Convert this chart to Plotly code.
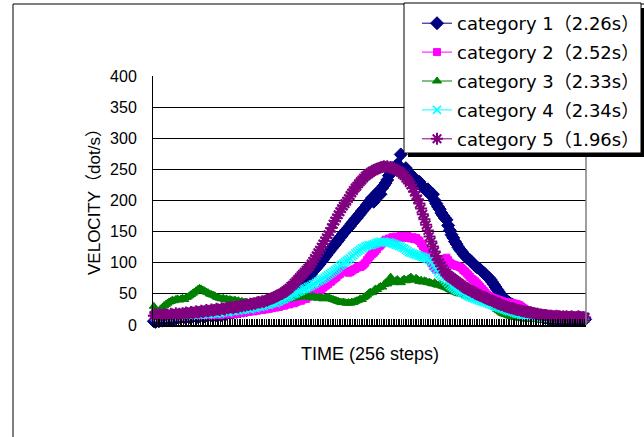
import plotly.graph_objects as go

steps = list(range(256))

names = ["category 1（2.26s）", "category 2（2.52s）", "category 3（2.33s）",
         "category 4（2.34s）", "category 5（1.96s）"]

cat1 = [6, 5, 7, 6, 8, 7, 9, 8, 10, 9, 11, 10, 12, 11, 12, 13,
        12, 14, 13, 15, 14, 13, 15, 14, 16, 15, 13, 14, 16, 15, 14, 16,
        15, 17, 16, 15, 17, 16, 18, 17, 16, 18, 19, 18, 20, 19, 21, 20,
        22, 21, 23, 22, 24, 23, 25, 24, 26, 25, 27, 28, 27, 29, 30, 29,
        31, 32, 31, 33, 34, 35, 34, 36, 37, 38, 39, 40, 41, 43, 45, 47,
        49, 52, 55, 57, 60, 62, 65, 67, 70, 72, 74, 76, 78, 82, 86, 89,
        92, 95, 98, 102, 105, 109, 112, 116, 119, 123, 126, 129, 133, 136, 140, 143,
        147, 150, 153, 156, 159, 163, 166, 170, 172, 176, 179, 183, 186, 189, 193, 196,
        200, 204, 198, 207, 212, 215, 210, 220, 224, 228, 233, 240, 245, 252, 250, 255,
        258, 255, 274, 250, 248, 252, 246, 244, 240, 238, 236, 232, 228, 230, 224, 222,
        220, 216, 218, 213, 208, 210, 200, 195, 190, 186, 180, 176, 172, 169, 160, 152,
        145, 140, 134, 130, 125, 121, 118, 114, 111, 108, 106, 104, 101, 98, 95, 93,
        91, 89, 86, 84, 81, 78, 76, 73, 69, 65, 61, 57, 53, 49, 45, 42,
        40, 38, 36, 34, 33, 31, 30, 29, 27, 26, 24, 23, 22, 21, 20, 19,
        18, 17, 16, 15, 14, 14, 13, 12, 12, 11, 11, 10, 10, 11, 10, 9,
        10, 9, 10, 9, 9, 10, 9, 8, 9, 8, 9, 8, 8, 9, 8, 9]

cat2 = [16, 14, 12, 15, 13, 14, 12, 13, 15, 12, 14, 13, 15, 14, 13, 15,
        14, 15, 13, 16, 14, 15, 16, 14, 15, 17, 15, 16, 14, 16, 17, 15,
        16, 17, 15, 18, 16, 17, 18, 16, 17, 19, 17, 18, 19, 17, 18, 20,
        18, 19, 20, 19, 21, 20, 21, 22, 21, 22, 23, 22, 24, 23, 24, 25,
        24, 26, 25, 27, 26, 28, 27, 29, 28, 30, 29, 31, 32, 31, 33, 34,
        33, 35, 36, 35, 37, 38, 40, 39, 41, 43, 42, 45, 47, 46, 49, 51,
        53, 55, 54, 57, 60, 62, 64, 66, 69, 70, 73, 75, 77, 80, 82, 86,
        88, 86, 87, 84, 85, 87, 89, 90, 92, 94, 93, 95, 97, 100, 104, 108,
        111, 114, 116, 119, 122, 126, 128, 131, 134, 137, 136, 139, 138, 141, 140, 142,
        139, 141, 143, 140, 142, 141, 143, 140, 139, 141, 138, 140, 137, 135, 131, 127,
        122, 118, 113, 107, 100, 95, 92, 89, 90, 93, 97, 101, 106, 108, 104, 100,
        98, 97, 96, 95, 94, 93, 91, 88, 86, 83, 80, 77, 74, 72, 70, 67,
        64, 61, 58, 55, 52, 49, 47, 45, 44, 43, 42, 41, 40, 39, 38, 37,
        37, 36, 36, 35, 35, 34, 34, 33, 32, 30, 28, 26, 24, 22, 20, 19,
        18, 17, 16, 16, 15, 15, 14, 15, 14, 14, 13, 14, 13, 14, 13, 13,
        13, 12, 13, 13, 12, 13, 12, 13, 12, 12, 13, 12, 12, 13, 12, 13]

cat3 = [30, 24, 18, 22, 26, 28, 31, 33, 35, 37, 38, 40, 39, 41, 42, 40,
        42, 43, 41, 44, 45, 47, 49, 51, 53, 55, 57, 59, 58, 56, 55, 53,
        52, 50, 49, 48, 47, 45, 44, 43, 42, 43, 41, 42, 40, 41, 40, 39,
        40, 38, 39, 37, 38, 36, 37, 36, 35, 36, 37, 35, 36, 37, 38, 36,
        37, 38, 37, 39, 38, 40, 39, 40, 41, 40, 39, 41, 40, 42, 41, 43,
        42, 44, 43, 45, 44, 46, 45, 47, 46, 45, 47, 46, 45, 44, 46, 45,
        44, 43, 45, 44, 42, 43, 44, 45, 43, 42, 41, 40, 39, 38, 37, 36,
        37, 36, 35, 36, 35, 37, 36, 38, 39, 40, 42, 41, 44, 46, 48, 51,
        53, 52, 55, 58, 57, 60, 62, 61, 65, 68, 66, 72, 77, 70, 68, 71,
        73, 70, 68, 72, 74, 71, 73, 75, 77, 74, 72, 75, 73, 70, 72, 69,
        71, 70, 68, 69, 67, 66, 68, 65, 64, 66, 63, 62, 61, 60, 59, 57,
        56, 55, 53, 52, 51, 50, 50, 49, 48, 47, 48, 46, 45, 44, 43, 44,
        42, 41, 40, 41, 40, 39, 38, 36, 34, 31, 28, 25, 23, 21, 19, 18,
        17, 16, 15, 14, 13, 13, 12, 12, 11, 11, 10, 11, 10, 10, 9, 10,
        9, 9, 10, 9, 8, 9, 9, 8, 9, 8, 9, 8, 8, 9, 8, 8,
        9, 8, 8, 9, 8, 8, 9, 8, 8, 9, 8, 9, 8, 8, 9, 8]

cat4 = [14, 12, 15, 13, 14, 12, 13, 15, 14, 13, 15, 14, 16, 14, 15, 16,
        15, 14, 16, 15, 17, 16, 15, 17, 16, 18, 17, 16, 18, 17, 19, 18,
        17, 19, 18, 20, 19, 18, 20, 19, 21, 20, 22, 21, 20, 22, 23, 22,
        23, 24, 23, 25, 24, 26, 25, 27, 26, 25, 27, 28, 27, 29, 30, 29,
        31, 30, 32, 33, 32, 34, 35, 36, 35, 37, 38, 40, 41, 42, 44, 45,
        46, 47, 49, 50, 51, 53, 54, 55, 57, 58, 59, 61, 62, 63, 65, 66,
        68, 70, 71, 73, 74, 76, 78, 80, 82, 84, 86, 88, 90, 92, 95, 97,
        99, 101, 103, 105, 107, 110, 112, 115, 117, 119, 121, 123, 124, 126, 127, 128,
        128, 129, 130, 131, 132, 133, 134, 133, 134, 133, 132, 133, 132, 131, 130, 129,
        128, 127, 126, 124, 123, 121, 119, 117, 116, 115, 114, 113, 112, 111, 110, 109,
        108, 107, 106, 104, 101, 97, 93, 89, 85, 82, 79, 76, 73, 70, 67, 64,
        62, 60, 58, 56, 55, 54, 52, 51, 49, 48, 46, 45, 44, 43, 42, 41,
        40, 39, 38, 37, 36, 35, 34, 33, 32, 31, 30, 29, 28, 27, 26, 25,
        24, 23, 22, 22, 21, 20, 19, 18, 18, 17, 16, 16, 15, 15, 14, 14,
        14, 13, 13, 13, 12, 13, 12, 12, 13, 12, 12, 11, 12, 12, 11, 12,
        12, 11, 12, 11, 12, 12, 11, 12, 11, 12, 11, 12, 11, 12, 11, 14]

cat5 = [15, 18, 14, 17, 16, 15, 18, 16, 17, 15, 18, 17, 16, 19, 17, 18,
        17, 19, 18, 20, 18, 19, 21, 19, 20, 22, 20, 21, 23, 21, 22, 24,
        22, 23, 25, 23, 24, 26, 25, 24, 27, 26, 25, 28, 27, 29, 28, 27,
        29, 30, 28, 31, 30, 32, 31, 33, 32, 34, 33, 35, 34, 36, 37, 36,
        38, 37, 39, 40, 41, 42, 43, 44, 46, 47, 48, 50, 51, 53, 55, 57,
        59, 62, 64, 67, 70, 73, 76, 79, 82, 85, 88, 91, 94, 98, 102, 107,
        111, 116, 120, 125, 130, 135, 140, 145, 150, 156, 162, 167, 172, 177, 182, 187,
        191, 195, 199, 203, 208, 212, 216, 220, 223, 227, 230, 233, 236, 239, 241, 243,
        245, 247, 248, 250, 251, 252, 253, 254, 255, 254, 255, 253, 254, 252, 251, 250,
        248, 247, 245, 242, 240, 236, 233, 229, 225, 220, 214, 208, 202, 195, 187, 178,
        170, 161, 152, 142, 134, 126, 118, 111, 105, 100, 95, 90, 86, 83, 80, 78,
        76, 74, 72, 70, 68, 66, 64, 62, 60, 58, 57, 56, 54, 53, 51, 50,
        48, 47, 46, 45, 44, 42, 41, 40, 39, 38, 37, 35, 34, 33, 32, 31,
        30, 29, 28, 27, 27, 26, 25, 24, 24, 23, 22, 22, 21, 21, 20, 20,
        19, 19, 18, 18, 17, 17, 16, 16, 16, 15, 15, 15, 14, 14, 15, 14,
        14, 13, 14, 13, 14, 13, 13, 14, 13, 12, 13, 14, 13, 12, 13, 12]

series = [cat1, cat2, cat3, cat4, cat5]
colors = ["#000080", "#FF00FF", "#008000", "#00FFFF", "#800080"]
symbols = ["diamond", "square", "triangle-up", "x-thin-open", "asterisk-open"]
sizes = [10, 7, 8, 8, 10]
mlw = [1, 1, 1, 1.5, 2]

y_ticks = [0, 50, 100, 150, 200, 250, 300, 350, 400]

fig = go.Figure()
for i, (nm, vals) in enumerate(zip(names, series)):
    fig.add_trace(go.Scatter(
        x=steps, y=vals, name=nm, mode="lines+markers",
        line=dict(color=colors[i], width=1),
        marker=dict(symbol=symbols[i], size=sizes[i], color=colors[i],
                    line=dict(color=colors[i], width=mlw[i])),
        legendgroup="g%d" % i, cliponaxis=False,
    ))

W, H = 644, 437
L, R, T, B = 153, 58, 76, 112
pw, ph = W - L - R, H - T - B


def px(xp):
    return (xp - L) / pw


def py(yp):
    return (H - B - yp) / ph


shapes = [
    # outer chart frame
    dict(type="rect", xref="paper", yref="paper", x0=px(13), x1=px(760),
         y0=py(560), y1=py(4), line=dict(color="black", width=1), layer="below"),
    # right border of plot area (gray)
    dict(type="line", xref="paper", yref="paper", x0=1, x1=1, y0=0, y1=1,
         line=dict(color="#808080", width=1.5)),
    # legend shadow
    dict(type="rect", xref="paper", yref="paper", x0=px(408), x1=px(700),
         y0=py(157), y1=py(8), fillcolor="black", line=dict(width=0), layer="above"),
    # legend box
    dict(type="rect", xref="paper", yref="paper", x0=px(404), x1=px(641),
         y0=py(153), y1=py(3), fillcolor="white",
         line=dict(color="black", width=1), layer="above"),
]

fig.update_layout(
    width=W, height=H,
    margin=dict(l=L, r=R, t=T, b=B, pad=0, autoexpand=False),
    paper_bgcolor="white", plot_bgcolor="white",
    showlegend=True,
    legend=dict(x=px(417), y=py(5), xanchor="left", yanchor="top",
                bgcolor="rgba(0,0,0,0)", borderwidth=0,
                font=dict(family="DejaVu Sans, Noto Sans CJK JP", size=18, color="black"),
                traceorder="grouped", tracegroupgap=2.5, itemwidth=30),
    shapes=shapes,
    annotations=[
        dict(text="TIME (256 steps)", xref="paper", yref="paper",
             x=px(370), y=py(354), showarrow=False, xanchor="center", yanchor="middle",
             font=dict(family="Liberation Sans", size=18, color="black")),
        dict(text="VELOCITY（dot/s）", xref="paper", yref="paper",
             x=px(94), y=py(198), showarrow=False, textangle=-90,
             xanchor="center", yanchor="middle",
             font=dict(family="Liberation Sans, Noto Sans CJK JP", size=17, color="black")),
    ],
)

fig.update_xaxes(
    range=[-0.5, 255.5], showgrid=False, zeroline=False,
    showline=True, linecolor="black", linewidth=2,
    ticks="inside", tickmode="linear", tick0=-0.5, dtick=1,
    ticklen=6, tickwidth=1, tickcolor="black", showticklabels=False,
)
fig.update_yaxes(
    range=[0, 400], tickmode="array", tickvals=y_ticks,
    ticktext=[str(v) for v in y_ticks],
    showgrid=True, gridcolor="black", gridwidth=1, zeroline=False,
    showline=True, linecolor="black", linewidth=1, ticks="",
    ticklabelstandoff=12,
    tickfont=dict(family="Liberation Sans", size=16, color="black"),
)

fig.write_html("out.html", config={"displayModeBar": False},
               post_script="document.body.style.margin='0';")
